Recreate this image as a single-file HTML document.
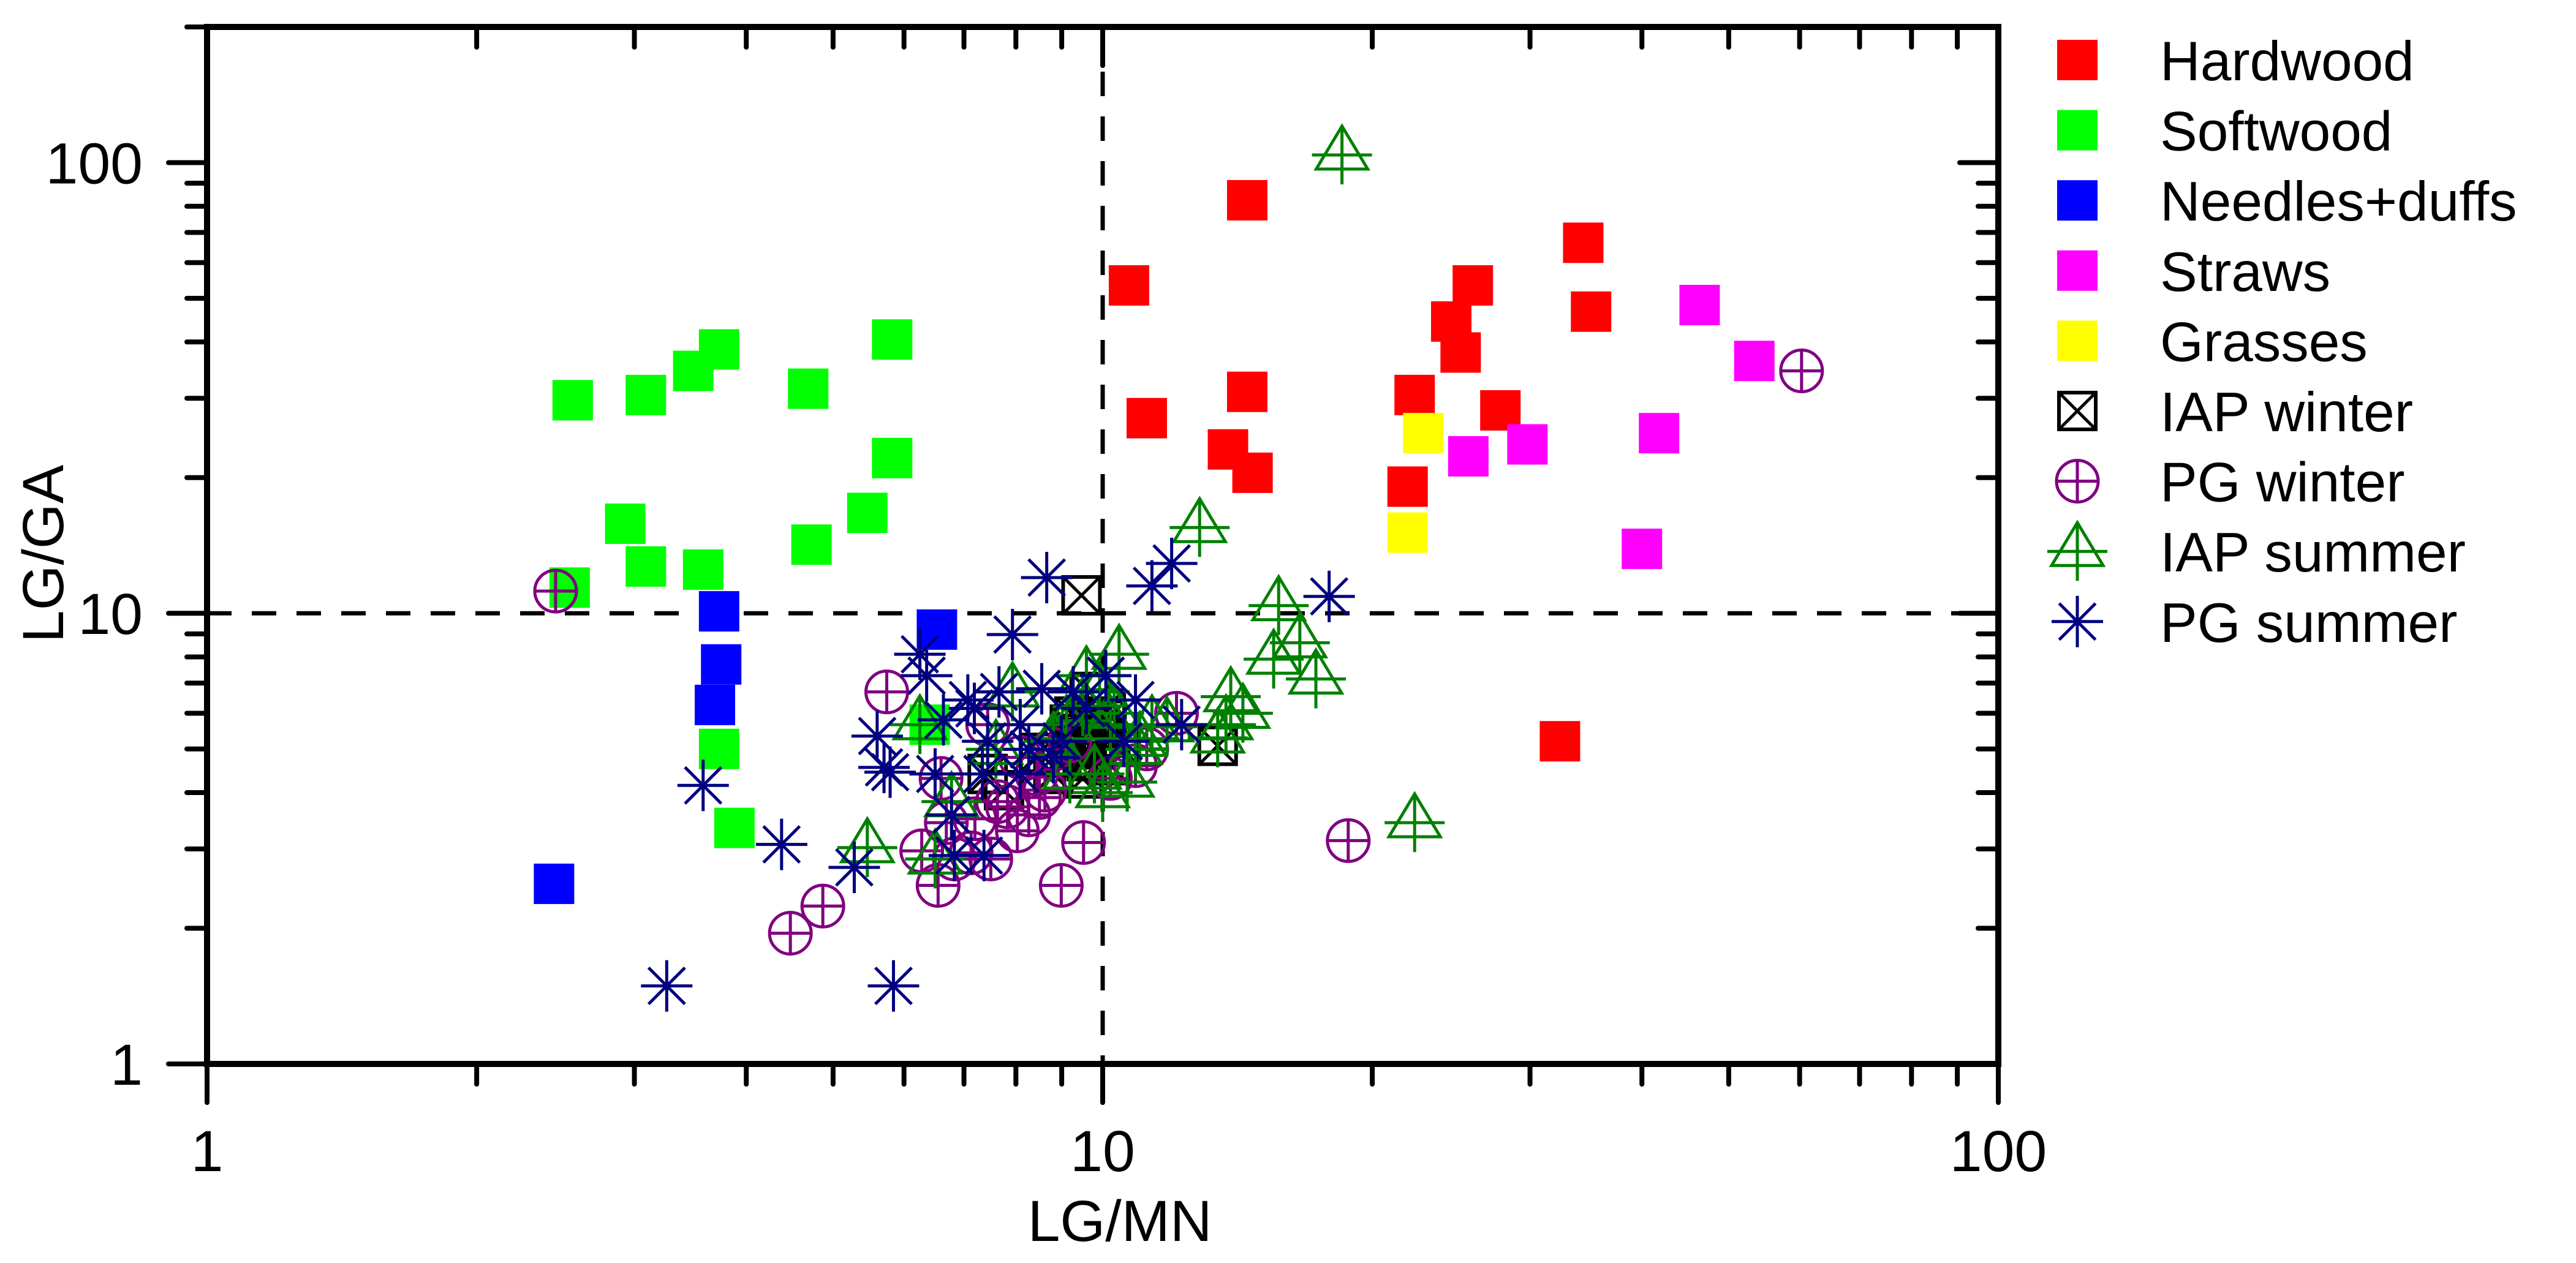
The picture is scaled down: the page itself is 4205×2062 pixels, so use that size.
<!DOCTYPE html>
<html><head><meta charset="utf-8"><style>
html,body{margin:0;padding:0;background:#fff;}
svg{display:block;font-family:"Liberation Sans",Arial,sans-serif;}
</style></head><body>
<svg id="chart" width="4205" height="2062" viewBox="0 0 4205 2062" xmlns="http://www.w3.org/2000/svg">
<rect x="0" y="0" width="4205" height="2062" fill="#fff"/>
<g id="ref"></g>
<g id="marks"></g>
<g id="axes"></g>
<g id="legend"></g>
</svg>
<script>
const xTicks = [1, 10, 100];
const xTickLabels = ["1", "10", "100"];
const yTicks = [1, 10, 100];
const yTickLabels = ["1", "10", "100"];
const refX = 10;
const refY = 10;
const hardwood = [[10.7,53.4],[11.2,27.1],[14.5,82.5],[13.8,23.1],[14.5,31.0],[14.7,20.5],[22.3,30.5],[21.9,19.1],[24.5,44.4],[25.9,53.4],[25.1,37.9],[27.8,28.2],[34.4,66.4],[35.1,46.7],[32.4,5.2]];
const softwood = [[2.56,29.7],[2.93,15.8],[3.09,30.5],[3.09,12.7],[3.49,34.5],[3.58,12.5],[3.73,38.5],[3.73,5.0],[3.88,3.34],[4.69,31.5],[4.73,14.2],[5.46,16.7],[5.82,40.5],[5.82,22.1],[2.54,11.4],[6.41,5.66]];
const needles = [[3.73,10.1],[3.75,7.7],[3.69,6.26],[6.53,9.2],[2.44,2.51]];
const straws = [[46.4,48.3],[53.4,36.3],[41.8,25.1],[29.8,23.7],[25.6,22.3],[40.0,13.9]];
const grasses = [[22.8,25.1],[21.9,15.1]];
const iapWinter = [[9.47,10.96],[13.44,5.08],[9.19,5.66],[9.59,5.29],[10.08,6.15],[9.39,4.99],[8.99,4.79],[9.67,6.69],[10.43,5.08],[8.81,4.40],[9.79,5.08],[7.44,4.40],[7.76,4.05],[9.9,5.5],[9.3,5.9],[10.2,4.6],[9.5,4.3],[8.5,4.9],[9.7,5.9],[10.0,5.3],[9.4,5.4],[9.6,4.7],[9.2,5.1],[10.1,5.8]];
const pgWinter = [[2.45,11.2],[5.74,6.69],[4.48,1.95],[4.87,2.24],[6.28,2.97],[6.55,2.49],[6.83,2.85],[7.13,2.94],[7.50,2.85],[7.63,3.82],[7.83,3.72],[8.03,3.29],[8.27,3.57],[8.44,4.40],[8.62,4.05],[8.81,4.99],[9.19,5.20],[9.52,3.10],[8.99,2.49],[12.09,6.00],[10.88,4.59],[18.8,3.13],[60.3,34.5],[6.69,3.43],[8.09,4.79],[7.44,5.66],[6.6,4.3],[7.2,3.5],[8.5,3.9],[10.2,4.3],[11.2,5.0]];
const iapSummer = [[18.5,104],[12.83,15.5],[15.72,10.4],[16.6,8.6],[15.52,7.91],[17.3,7.15],[13.9,6.53],[14.34,6.00],[13.73,5.66],[13.44,5.29],[22.3,3.43],[5.46,3.02],[6.50,2.85],[6.78,3.82],[7.93,6.69],[8.81,5.20],[9.11,5.66],[9.59,7.27],[9.92,6.69],[10.43,8.11],[10.2,5.66],[10.88,4.99],[9.79,4.40],[9.19,4.40],[11.35,5.66],[10.65,4.22],[6.25,5.66],[7.60,4.99],[10.0,4.0],[11.0,5.2],[9.5,6.2],[10.3,6.0],[11.8,5.6]];
const pgSummer = [[3.26,1.49],[5.84,1.49],[3.58,4.15],[4.38,3.07],[5.28,2.73],[5.60,5.34],[5.70,4.55],[5.79,4.44],[6.25,8.11],[6.36,7.27],[6.64,5.80],[6.50,4.40],[6.78,3.57],[7.07,6.42],[7.34,4.40],[7.19,6.15],[7.44,5.20],[7.66,6.69],[7.93,8.97],[8.09,5.66],[8.27,4.99],[8.55,6.80],[8.66,12.0],[8.81,4.79],[8.99,5.20],[9.27,6.69],[9.59,6.15],[10.08,7.27],[10.56,5.20],[10.88,6.42],[11.35,11.5],[11.94,12.9],[12.25,5.66],[17.9,10.9],[7.37,2.90],[6.83,2.90],[8.09,4.40]];
const seriesNames = ["Hardwood","Softwood","Needles+duffs","Straws","Grasses","IAP winter","PG winter","IAP summer","PG summer"];

const NS = "http://www.w3.org/2000/svg";
const L = 338, R = 3262, T = 44, B = 1737;
const xMin = 1, xMax = 100, yMin = 1, yMax = 200;
function sx(v){ return L + (Math.log10(v) - Math.log10(xMin)) / (Math.log10(xMax) - Math.log10(xMin)) * (R - L); }
function sy(v){ return B - (Math.log10(v) - Math.log10(yMin)) / (Math.log10(yMax) - Math.log10(yMin)) * (B - T); }
function mk(tag, attrs, parent){ const e = document.createElementNS(NS, tag); for (const k in attrs) e.setAttribute(k, attrs[k]); parent.appendChild(e); return e; }

const gRef = document.getElementById('ref'), gM = document.getElementById('marks'), gA = document.getElementById('axes'), gL = document.getElementById('legend');

const vl = mk('line', {x1: sx(refX), x2: sx(refX), y1: T, y2: B, stroke: '#000', 'stroke-width': 7, 'stroke-dasharray': '40 33'}, gRef);


const hl = mk('line', {x1: L, x2: R, y1: sy(refY), y2: sy(refY), stroke: '#000', 'stroke-width': 7, 'stroke-dasharray': '40 33'}, gRef);



function drawMarker(type, cx, cy, parent){
  const g = mk('g', {}, parent);
  if (type.kind === 'square') {
    mk('rect', {x: cx-33, y: cy-33, width: 66, height: 66, fill: type.color}, g);
  } else if (type.kind === 'boxx') {
    mk('rect', {x: cx-30, y: cy-30, width: 60, height: 60, fill: 'none', stroke: '#000', 'stroke-width': 6}, g);
    mk('path', {d: `M${cx-30},${cy-30}L${cx+30},${cy+30}M${cx+30},${cy-30}L${cx-30},${cy+30}`, stroke: '#000', 'stroke-width': 5}, g);
  } else if (type.kind === 'circle') {
    mk('circle', {cx: cx, cy: cy, r: 34, fill: 'none', stroke: '#800080', 'stroke-width': 5}, g);
    mk('path', {d: `M${cx-34},${cy}L${cx+34},${cy}M${cx},${cy-34}L${cx},${cy+34}`, stroke: '#800080', 'stroke-width': 5}, g);
  } else if (type.kind === 'tri') {
    mk('path', {d: `M${cx},${cy-47}L${cx+42},${cy+23}L${cx-42},${cy+23}Z`, fill: 'none', stroke: '#008000', 'stroke-width': 5}, g);
    mk('path', {d: `M${cx-49},${cy}L${cx+49},${cy}M${cx},${cy-47}L${cx},${cy+48}`, stroke: '#008000', 'stroke-width': 5}, g);
  } else if (type.kind === 'star') {
    let d = '';
    for (let i = 0; i < 4; i++) { const a = i*Math.PI/4; const dx = 42*Math.cos(a), dy = 42*Math.sin(a); d += `M${cx-dx},${cy-dy}L${cx+dx},${cy+dy}`; }
    mk('path', {d: d, stroke: '#000080', 'stroke-width': 5}, g);
  }
  return g;
}
const types = [
  {kind:'square', color:'#ff0000'},{kind:'square', color:'#00ff00'},{kind:'square', color:'#0000ff'},
  {kind:'square', color:'#ff00ff'},{kind:'square', color:'#ffff00'},{kind:'boxx'},{kind:'circle'},{kind:'tri'},{kind:'star'}];
const allSeries = [hardwood, softwood, needles, straws, grasses, iapWinter, pgWinter, iapSummer, pgSummer];
const slug = ['hardwood','softwood','needles-duffs','straws','grasses','iap-winter','pg-winter','iap-summer','pg-summer'];
allSeries.forEach((s, si) => {
  const sg = mk('g', {}, gM);
  
  
  s.forEach(p => {
    const m = drawMarker(types[si], sx(p[0]), sy(p[1]), sg);
    
    
  });
});

const frame = mk('rect', {x: L, y: T, width: R-L, height: B-T, fill: 'none', stroke: '#000', 'stroke-width': 10}, gA);



function tickLine(x1,y1,x2,y2,name){ const t = mk('line', {x1:x1,y1:y1,x2:x2,y2:y2,stroke:'#000','stroke-width':8,'stroke-linecap':'round'}, gA);
  
   }
for (let dec = 1; dec < xMax; dec *= 10) {
  for (let k = 1; k <= 10; k++) {
    const v = dec*k; if (v > xMax) break;
    const major = (k === 1 || k === 10);
    if (k === 10 && dec*10 < xMax) continue;
    const len = major ? 63 : 33; const x = sx(v);
    tickLine(x, B, x, B+len, 'x-tick');
    tickLine(x, T, x, T+len, 'x-tick-top');
  }
}
for (let dec = 1; dec < yMax; dec *= 10) {
  for (let k = 1; k <= 10; k++) {
    const v = dec*k; if (v > yMax + 0.01) break;
    const major = (k === 1 || k === 10);
    if (k === 10 && dec*10 <= yMax) continue;
    const len = major ? 63 : 33; const y = sy(v);
    tickLine(L, y, L-len, y, 'y-tick');
    tickLine(R, y, R-len, y, 'y-tick-right');
  }
}
xTicks.forEach((v, i) => {
  const t = mk('text', {x: sx(v), y: 1912, 'font-size': 95, 'text-anchor': 'middle'}, gA);
  t.textContent = xTickLabels[i];
  
  
});
yTicks.forEach((v, i) => {
  const t = mk('text', {x: 233, y: sy(v) + 34, 'font-size': 95, 'text-anchor': 'end'}, gA);
  t.textContent = yTickLabels[i];
  
  
});
const xt = mk('text', {x: 1828, y: 2026, 'font-size': 95, 'text-anchor': 'middle'}, gA);
xt.textContent = 'LG/MN';


const yt = mk('text', {x: 0, y: 0, 'font-size': 95, 'text-anchor': 'middle', transform: 'translate(103,904) rotate(-90)'}, gA);
yt.textContent = 'LG/GA';



seriesNames.forEach((n, i) => {
  const cy = 98 + i*114.6;
  const eg = mk('g', {}, gL);
  
  
  drawMarker(types[i], 3391, cy, eg);
  const t = mk('text', {x: 3526, y: cy + 33, 'font-size': 91}, eg);
  t.textContent = n;
});
</script>
</body></html>
